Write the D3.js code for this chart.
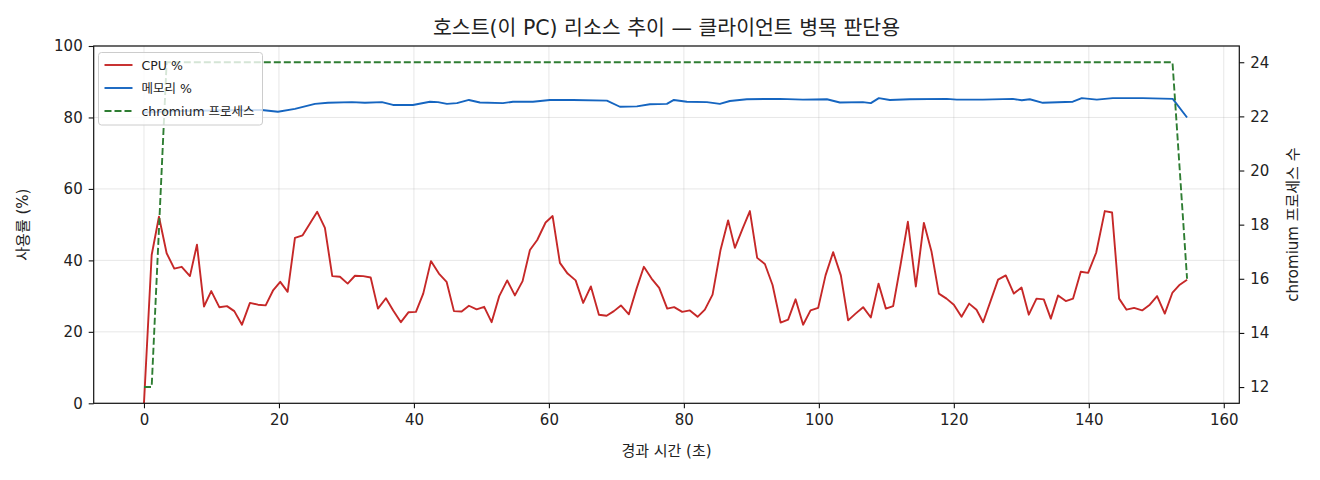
<!DOCTYPE html>
<html><head><meta charset="utf-8">
<script src="https://cdn.jsdelivr.net/npm/d3@7"></script>
<style>
html,body{margin:0;padding:0;background:#fff;}
text{font-family:"DejaVu Sans","Noto Sans CJK KR",sans-serif;fill:#222;}
</style></head>
<body><svg id="c" width="1320" height="480"></svg>
<script>
const title = "호스트(이 PC) 리소스 추이 — 클라이언트 병목 판단용";
const xLabel = "경과 시간 (초)";
const yLabel = "사용률 (%)";
const y2Label = "chromium 프로세스 수";
const seriesNames = ["CPU %", "메모리 %", "chromium 프로세스"];
const xTicks = [0,20,40,60,80,100,120,140,160];
const yTicks = [0,20,40,60,80,100];
const y2Ticks = [12,14,16,18,20,22,24];

const cpuTime = [0,1.14,2.22,3.36,4.49,5.59,6.81,7.85,8.89,9.97,11.16,12.3,13.38,14.52,15.7,16.89,18.03,19.16,20.19,21.29,22.37,23.51,24.59,25.67,26.81,27.9,29.04,30.18,31.26,32.49,33.59,34.67,35.85,36.93,38.07,39.21,40.3,41.38,42.52,43.7,44.84,45.93,47.07,48.15,49.29,50.41,51.51,52.64,53.82,54.96,56.1,57.19,58.27,59.51,60.55,61.63,62.77,63.96,65.08,66.22,67.41,68.55,69.63,70.67,71.85,72.99,74.07,75.21,76.34,77.53,78.56,79.75,80.89,82.03,83.11,84.25,85.44,86.56,87.56,88.7,89.78,90.86,92,93.14,94.33,95.45,96.55,97.67,98.77,99.9,100.99,102.12,103.26,104.34,105.44,106.56,107.7,108.84,109.93,111.01,112.1,113.19,114.37,115.56,116.7,117.78,118.92,120,121.14,122.27,123.36,124.34,125.48,126.56,127.7,128.89,130.03,131.11,132.25,133.33,134.37,135.45,136.59,137.67,138.81,139.9,141.1,142.37,143.45,144.49,145.59,146.71,147.9,149.04,150.12,151.26,152.4,153.48,154.56];
const cpuValues = [0,41.5,52.2,42,37.7,38.2,35.6,44.4,27.1,31.4,26.9,27.2,25.8,22,28.1,27.6,27.4,31.7,34,31.2,46.3,47,50.3,53.6,49.1,35.6,35.4,33.5,35.7,35.6,35.2,26.5,29.4,26,22.7,25.5,25.6,30.7,39.8,36.3,34,25.8,25.7,27.3,26.3,27,22.7,30,34.4,30.2,34.2,42.9,45.7,50.6,52.4,39.3,36.3,34.4,28.1,32.7,24.8,24.5,25.8,27.4,24.9,32.1,38.2,34.9,32.3,26.5,26.9,25.6,26,24.2,26.2,30.4,43,51.2,43.5,48.9,53.8,40.7,39,33.1,22.6,23.4,29.1,22,26,26.7,35.8,42.3,35.8,23.2,25.1,26.9,24,33.5,26.5,27.2,38.7,50.8,32.7,50.5,42.4,30.7,29.3,27.6,24.2,27.9,26.2,22.7,28.8,34.6,35.8,30.7,32.4,24.8,29.3,29.1,23.7,30.2,28.6,29.3,36.8,36.5,42.2,53.8,53.4,29.3,26.2,26.7,26,27.6,30,25.1,31,33.2,34.6];

const memTime = [0,5,12,17.44,19.85,22.37,25.33,27.26,30.81,32.74,35.26,36.89,39.85,42.37,43.56,44.89,46.37,48.15,49.78,53.19,54.67,57.63,60.15,63.56,68.59,70.52,73.04,74.96,77.48,78.52,80.44,83.41,85.33,86.81,89.33,94.22,97.63,101.19,103.11,106.52,107.7,108.89,110.52,113.48,118.96,120.44,124.3,128.74,130.07,131.26,133.19,137.63,138.96,141.19,143.56,148,152.44,154.56];
const memValues = [81.4,81.8,82,82.1,81.6,82.4,83.8,84.1,84.3,84.1,84.3,83.5,83.5,84.4,84.3,83.8,84,84.9,84.2,84,84.4,84.4,84.9,84.9,84.7,83,83.1,83.7,83.8,84.9,84.4,84.3,83.8,84.6,85.1,85.2,85,85.1,84.2,84.3,84,85.4,84.9,85.1,85.2,85,85,85.2,84.8,85.1,84.1,84.4,85.4,85,85.4,85.4,85.2,80];

const procTime = [0,1.14,3.36,152.4,154.56];
const procValues = [12,12,24,24,16];

const colors = {cpu:"#c62828", mem:"#1565c0", proc:"#2e7d32"};

const svg = d3.select("#c");
const L=93.7, R=1239.3, T=46, B=403.3;
const x = d3.scaleLinear().domain([-7.45,162.3]).range([L,R]);
const y = d3.scaleLinear().domain([0,100]).range([B,T]);
const y2 = d3.scaleLinear().domain([11.4,24.6]).range([B,T]);

// grid
const g = svg.append("g");
g.selectAll(".vg").data(xTicks).join("line")
  .attr("x1",d=>x(d)).attr("x2",d=>x(d)).attr("y1",T).attr("y2",B)
  .attr("stroke","#b0b0b0").attr("stroke-opacity",0.3).attr("stroke-width",1);
g.selectAll(".hg").data(yTicks).join("line")
  .attr("x1",L).attr("x2",R).attr("y1",d=>y(d)).attr("y2",d=>y(d))
  .attr("stroke","#b0b0b0").attr("stroke-opacity",0.3).attr("stroke-width",1);

// lines
const cpuData = cpuTime.map((t,i)=>[t,cpuValues[i]]);
const memData = memTime.map((t,i)=>[t,memValues[i]]);
const procData = procTime.map((t,i)=>[t,procValues[i]]);
svg.append("clipPath").attr("id","clp").append("rect").attr("x",L).attr("y",T).attr("width",R-L).attr("height",B-T);
const lg = svg.append("g").attr("clip-path","url(#clp)");
lg.append("path").datum(cpuData).attr("d",d3.line().x(d=>x(d[0])).y(d=>y(d[1])))
  .attr("fill","none").attr("stroke",colors.cpu).attr("stroke-width",1.9).attr("stroke-linejoin","round");
lg.append("path").datum(memData).attr("d",d3.line().x(d=>x(d[0])).y(d=>y(d[1])))
  .attr("fill","none").attr("stroke",colors.mem).attr("stroke-width",1.9).attr("stroke-linejoin","round");
lg.append("path").datum(procData).attr("d",d3.line().x(d=>x(d[0])).y(d=>y2(d[1])))
  .attr("fill","none").attr("stroke",colors.proc).attr("stroke-width",1.9).attr("stroke-dasharray","7,3");

// frame
svg.append("rect").attr("x",L).attr("y",T).attr("width",R-L).attr("height",B-T)
  .attr("fill","none").attr("stroke","#111").attr("stroke-width",1.2);

// axes
const fs=15;
const xa = svg.append("g").attr("transform",`translate(0,${B})`)
  .call(d3.axisBottom(x).tickValues(xTicks).tickSize(5).tickPadding(6).tickFormat(d3.format("d")));
const ya = svg.append("g").attr("transform",`translate(${L},0)`)
  .call(d3.axisLeft(y).tickValues(yTicks).tickSize(5).tickPadding(6).tickFormat(d3.format("d")));
const y2a = svg.append("g").attr("transform",`translate(${R},0)`)
  .call(d3.axisRight(y2).tickValues(y2Ticks).tickSize(5).tickPadding(6).tickFormat(d3.format("d")));
[xa,ya,y2a].forEach(a=>{
  a.select(".domain").remove();
  a.selectAll("line").attr("stroke","#111").attr("stroke-width",1.1);
  a.selectAll("text").attr("font-size",fs).attr("font-family","DejaVu Sans").style("fill","#222");
});

// titles
svg.append("text").attr("x",(L+R)/2).attr("y",35).attr("text-anchor","middle")
  .attr("font-size",20.5).text(title);
svg.append("text").attr("x",(L+R)/2).attr("y",456).attr("text-anchor","middle")
  .attr("font-size",15).text(xLabel);
svg.append("text").attr("transform",`translate(28,${(T+B)/2}) rotate(-90)`).attr("text-anchor","middle")
  .attr("font-size",15).text(yLabel);
svg.append("text").attr("transform",`translate(1298,${(T+B)/2}) rotate(-90)`).attr("text-anchor","middle")
  .attr("font-size",15).text(y2Label);

// legend
const leg = svg.append("g");
leg.append("rect").attr("x",98.5).attr("y",52.5).attr("width",164).attr("height",72.5).attr("rx",3)
  .attr("fill","#fff").attr("fill-opacity",0.8).attr("stroke","#cccccc").attr("stroke-width",1);
const legItems = [
  {name:seriesNames[0], color:colors.cpu, dash:null},
  {name:seriesNames[1], color:colors.mem, dash:null},
  {name:seriesNames[2], color:colors.proc, dash:"7,3"}
];
legItems.forEach((it,i)=>{
  const yy = 65 + i*23;
  leg.append("line").attr("x1",104.5).attr("x2",132.5).attr("y1",yy).attr("y2",yy)
    .attr("stroke",it.color).attr("stroke-width",1.9).attr("stroke-dasharray",it.dash);
  leg.append("text").attr("x",141.5).attr("y",yy+4.5).attr("font-size",12.5).text(it.name);
});
</script></body></html>
